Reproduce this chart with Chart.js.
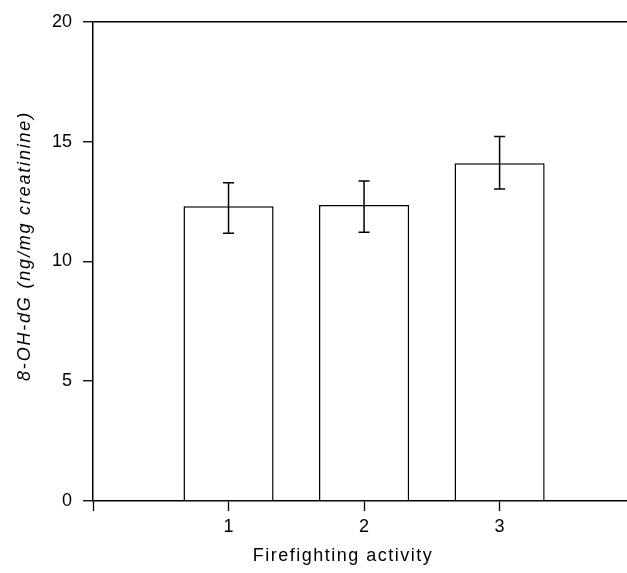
<!DOCTYPE html>
<html>
<head>
<meta charset="utf-8">
<script src="https://cdn.jsdelivr.net/npm/chart.js@4"></script>
<style>
  html, body { margin: 0; padding: 0; background: #fff; }
  #wrap { width: 627px; height: 573px; }
</style>
</head>
<body>
<div id="wrap"><canvas id="c" width="627" height="573"></canvas></div>
<script>
const categories = [1, 2, 3];
const means = [12.3, 12.35, 14.1];
const errLow = [11.18, 11.22, 13.02];
const errHigh = [13.28, 13.36, 15.21];
const xTicks = [0, 1, 2, 3];
const yTicks = [0, 5, 10, 15, 20];
const xTitle = 'Firefighting activity';
const yTitle = '8-OH-dG (ng/mg creatinine)';

const FONT = "'Liberation Sans', Arial, sans-serif";

const errorBars = {
  id: 'errorBars',
  afterDatasetsDraw(chart) {
    const ctx = chart.ctx;
    const xs = chart.scales.x, ys = chart.scales.y;
    ctx.save();
    ctx.strokeStyle = '#000';
    ctx.lineWidth = 1.5;
    categories.forEach((c, i) => {
      const x = xs.getPixelForValue(c);
      const yl = ys.getPixelForValue(errLow[i]);
      const yh = ys.getPixelForValue(errHigh[i]);
      const cap = 5.5;
      ctx.beginPath();
      ctx.moveTo(x, yl); ctx.lineTo(x, yh);
      ctx.moveTo(x - cap, yl); ctx.lineTo(x + cap, yl);
      ctx.moveTo(x - cap, yh); ctx.lineTo(x + cap, yh);
      ctx.stroke();
    });
    ctx.restore();
  }
};

const axisTitles = {
  id: 'axisTitles',
  afterDraw(chart) {
    const ctx = chart.ctx;
    ctx.save();
    ctx.fillStyle = '#000';
    ctx.textAlign = 'center';
    ctx.textBaseline = 'middle';
    ctx.letterSpacing = '1.5px';
    ctx.font = "18px " + FONT;
    ctx.fillText(xTitle, 343, 556);
    ctx.translate(25, 246);
    ctx.rotate(-Math.PI / 2);
    ctx.letterSpacing = '1.8px';
    ctx.font = "italic 18px " + FONT;
    ctx.fillText(yTitle, 0, 0);
    ctx.restore();
  }
};

new Chart(document.getElementById('c'), {
  type: 'bar',
  data: {
    datasets: [{
      data: categories.map((c, i) => ({ x: c, y: means[i] })),
      backgroundColor: '#fff',
      borderColor: '#000',
      borderWidth: 1.5,
      barPercentage: 0.665,
      categoryPercentage: 1.0
    }]
  },
  options: {
    responsive: false,
    animation: false,
    layout: { padding: { top: 20, right: 0, left: 0, bottom: 0 } },
    plugins: { legend: { display: false }, tooltip: { enabled: false } },
    scales: {
      x: {
        type: 'linear',
        offset: false,
        min: 0,
        max: 3.94,
        afterBuildTicks: s => { s.ticks = xTicks.map(v => ({ value: v })); },
        afterFit: s => { s.height = 72; },
        ticks: {
          color: '#000',
          font: { family: FONT, size: 18 },
          padding: 5,
          maxRotation: 0,
          autoSkip: false,
          callback: v => (v === 0 ? '' : String(v))
        },
        grid: {
          offset: false,
          drawOnChartArea: false,
          drawTicks: true,
          tickLength: 10,
          tickColor: '#000',
          tickWidth: 1.3
        },
        border: { display: true, color: '#000', width: 1.5 },
        title: { display: false, text: xTitle }
      },
      y: {
        min: 0,
        max: 20,
        afterBuildTicks: s => { s.ticks = yTicks.map(v => ({ value: v })); },
        afterFit: s => { s.width = 93; },
        ticks: {
          color: '#000',
          font: { family: FONT, size: 18 },
          padding: 11
        },
        grid: {
          drawOnChartArea: true,
          color: c => (c.tick && c.tick.value === 20 ? '#000' : 'rgba(0,0,0,0)'),
          lineWidth: 1.5,
          drawTicks: true,
          tickLength: 10,
          tickColor: '#000',
          tickWidth: 1.3
        },
        border: { display: true, color: '#000', width: 1.5 },
        title: { display: false, text: yTitle }
      }
    }
  },
  plugins: [errorBars, axisTitles]
});
</script>
</body>
</html>
